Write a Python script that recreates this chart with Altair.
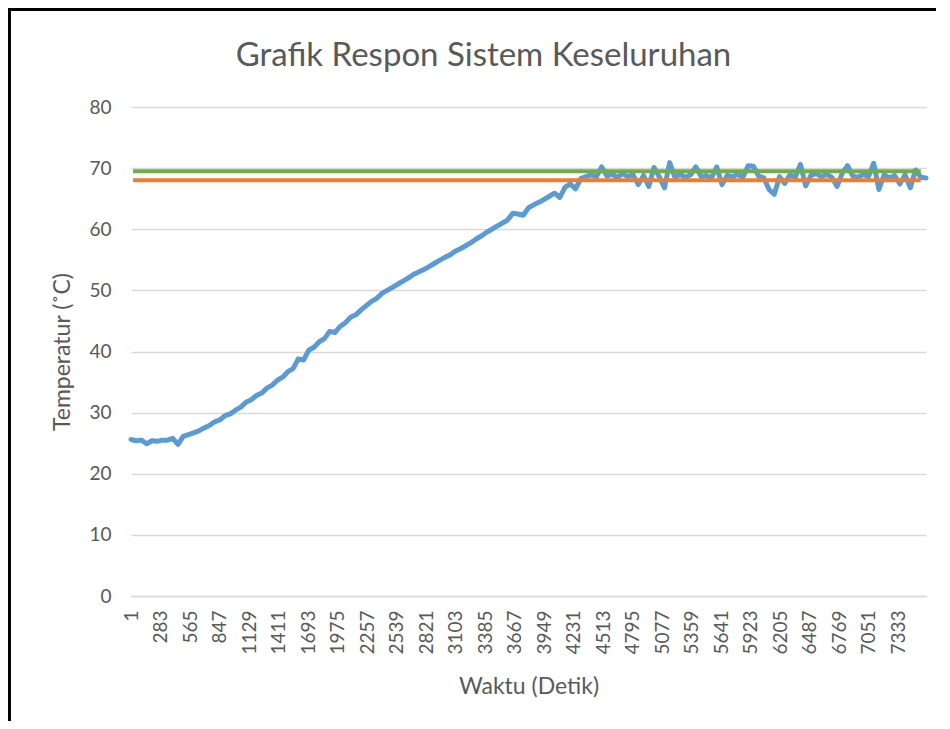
import altair as alt
import pandas as pd

# ---- data ----
time_s = [1] + list(range(50, 7601, 50))

temperature = [
    25.6, 25.4, 25.5, 24.9, 25.4, 25.3, 25.5, 25.5, 25.8, 24.8,
    26.1, 26.4, 26.7, 27.0, 27.5, 27.9, 28.5, 28.8, 29.5, 29.8,
    30.4, 30.9, 31.7, 32.1, 32.8, 33.2, 34.0, 34.5, 35.3, 35.8,
    36.7, 37.2, 38.8, 38.6, 40.2, 40.7, 41.6, 42.1, 43.3, 43.1,
    44.1, 44.7, 45.6, 46.0, 46.8, 47.5, 48.2, 48.7, 49.5, 50.0,
    50.5, 51.0, 51.5, 52.0, 52.6, 53.0, 53.4, 53.9, 54.4, 54.9,
    55.4, 55.8, 56.4, 56.8, 57.3, 57.8, 58.4, 58.9, 59.5, 60.0,
    60.5, 61.0, 61.5, 62.6, 62.5, 62.3, 63.5, 64.0, 64.4, 64.9,
    65.4, 65.9, 65.2, 66.9, 67.4, 66.6, 68.3, 68.6, 68.9, 68.6,
    70.2, 68.7, 69.0, 68.5, 69.1, 68.6, 68.9, 67.3, 68.8, 67.0,
    70.1, 68.6, 66.8, 70.9, 68.5, 69.0, 68.5, 68.9, 70.2, 68.6,
    68.8, 68.4, 70.2, 67.3, 68.8, 68.6, 69.0, 68.5, 70.4, 70.3,
    68.7, 68.4, 66.5, 65.7, 68.6, 67.5, 68.9, 68.5, 70.6, 67.1,
    68.8, 69.1, 68.6, 69.0, 68.5, 67.0, 69.2, 70.4, 68.7, 68.5,
    69.0, 68.6, 70.8, 66.5, 68.9, 68.4, 68.8, 67.4, 68.9, 66.8,
    69.7, 68.5, 68.4,
]

limit_time = [20, 7550]
upper_limit = [69.5, 69.5]   # green
lower_limit = [68.0, 68.0]   # orange

x_tick_values = [1, 283, 565, 847, 1129, 1411, 1693, 1975, 2257, 2539,
                 2821, 3103, 3385, 3667, 3949, 4231, 4513, 4795, 5077,
                 5359, 5641, 5923, 6205, 6487, 6769, 7051, 7333]
y_tick_values = [0, 10, 20, 30, 40, 50, 60, 70, 80]

TXT = "#595959"
GRID = "#d9d9d9"
FONT = "Lato"

PAD_L, PAD_T, PAD_R, PAD_B = 123, 99, 16, 125
W, H = 795, 489

df_temp = pd.DataFrame({"t": time_s, "v": temperature})
df_up = pd.DataFrame({"t": limit_time, "v": upper_limit})
df_lo = pd.DataFrame({"t": limit_time, "v": lower_limit})
one = pd.DataFrame({"a": [0]})

xscale = alt.Scale(domain=[1, 7600], nice=False, zero=False)
yscale = alt.Scale(domain=[0, 80], nice=False)

xaxis = alt.Axis(values=x_tick_values, format="d", labelAngle=270, labelOverlap=False,
                 labelFlush=False, grid=False, ticks=False, tickSize=0,
                 labelPadding=14, domainColor=GRID, domainWidth=1.3,
                 title="Waktu (Detik)", titleY=90, titleBaseline="middle")
yaxis = alt.Axis(values=y_tick_values, grid=True, gridColor=GRID, gridWidth=1.3,
                 domain=False, ticks=False, tickSize=0, labelPadding=20,
                 title="Temperatur (˚C)", titleX=-69, titleY=244.5,
                 titleAlign="center", titleBaseline="middle", titleAngle=270)

def enc(ch):
    return ch.encode(
        x=alt.X("t:Q", scale=xscale, axis=xaxis),
        y=alt.Y("v:Q", scale=yscale, axis=yaxis),
    )

# black frame on the left and top edges
frame_left = alt.Chart(one).mark_rule(color="black", strokeWidth=3).encode(
    x=alt.value(-PAD_L + 1.5), y=alt.value(-PAD_T), y2=alt.value(H + PAD_B))
frame_top = alt.Chart(one).mark_rect(color="black", strokeWidth=0).encode(
    x=alt.value(-PAD_L), x2=alt.value(W + PAD_R - 6),
    y=alt.value(-PAD_T), y2=alt.value(-PAD_T + 3))

title = alt.Chart(one).mark_text(
    text="Grafik Respon Sistem Keseluruhan", font=FONT, fontSize=33,
    color=TXT, align="center", baseline="alphabetic"
).encode(x=alt.value(352.5), y=alt.value(-41))

blue = enc(alt.Chart(df_temp).mark_line(color="#5B9BD5", strokeWidth=5,
                                          strokeCap="round", strokeJoin="round"))
green = enc(alt.Chart(df_up).mark_line(color="#70AD47", strokeWidth=4))
orange = enc(alt.Chart(df_lo).mark_line(color="#ED7D31", strokeWidth=4))

chart = alt.layer(frame_left, frame_top, title, blue, green, orange).properties(
    width=W, height=H,
    autosize=alt.AutoSizeParams(type="none"),
    padding={"left": PAD_L, "top": PAD_T, "right": PAD_R, "bottom": PAD_B},
    background="white",
).configure_view(stroke=None).configure_axis(
    labelFont=FONT, labelFontSize=19, labelColor=TXT,
    titleFont=FONT, titleFontSize=23, titleColor=TXT, titleFontWeight="normal",
)

chart.save("out.html", embed_options={"renderer": "svg", "actions": False})
